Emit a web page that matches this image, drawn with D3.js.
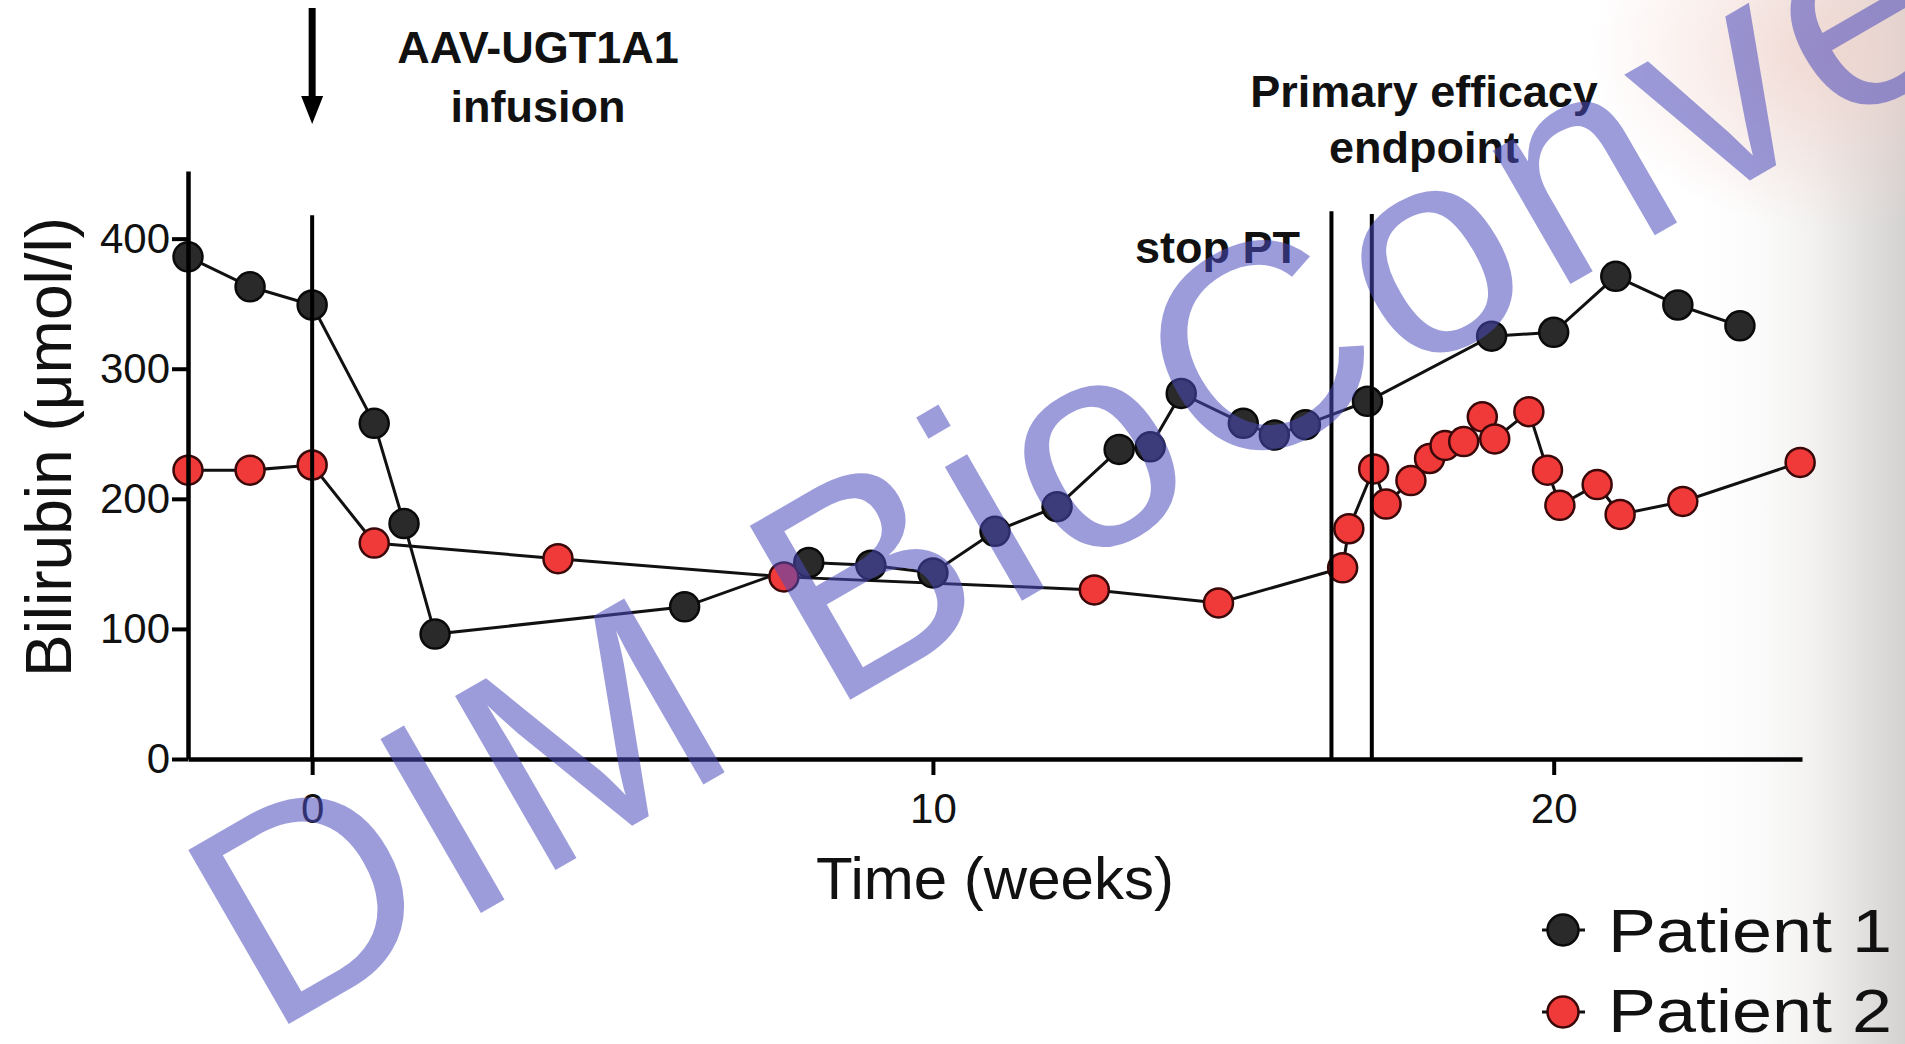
<!DOCTYPE html>
<html>
<head>
<meta charset="utf-8">
<script src="https://cdn.jsdelivr.net/npm/d3@7"></script>
<style>
  body { margin: 0; background: #fff; }
  svg text { font-family: "Liberation Sans", Arial, Helvetica, sans-serif; }
</style>
</head>
<body>
<div id="main-frame"></div>
<script>
// data
var weeks1 = [-2, -1, 0, 1, 1.48, 1.98, 6, 8, 9, 10, 11, 12, 13, 13.5, 14, 15, 15.5, 16, 17, 19, 20, 21, 22, 23];
var bili1  = [386, 363, 349, 258, 181, 96, 117, 151, 149, 143, 175, 194, 238, 240, 281, 258, 249, 257, 275, 325, 328, 371, 349, 333];

var weeks2 = [-2, -1, 0, 1, 3.96, 7.6, 12.6, 14.6, 16.6, 16.7, 17.1, 17.3, 17.7, 18, 18.25, 18.55, 18.85, 19.05, 19.6, 19.9, 20.1, 20.7, 21.07, 22.08, 23.97];
var bili2  = [222, 222, 226, 166, 154, 140, 130, 120, 147, 177, 223, 196, 214, 231, 241, 244, 263, 246, 267, 222, 195, 211, 188, 198, 228];

var seriesNames = ["Patient 1", "Patient 2"];
var xTicks = [0, 10, 20];
var yTicks = [0, 100, 200, 300, 400];

// vertical marker lines (week, top value)
var refWeeks = [0, 16.42, 17.07];
var refTops = [418, 421, 419];

var width = 1905;
var height = 1044;

var mainSVG = d3.select("#main-frame")
  .append("svg")
  .attr("width", width)
  .attr("height", height);

// faint photo shading on the right edge
var defs = mainSVG.append("defs");
var grad = defs.append("linearGradient").attr("id", "edge").attr("x1", 0).attr("x2", 1).attr("y1", 0).attr("y2", 0);
grad.append("stop").attr("offset", "0").attr("stop-color", "#fff").attr("stop-opacity", 0);
grad.append("stop").attr("offset", "0.6").attr("stop-color", "#f2f1f0").attr("stop-opacity", 1);
grad.append("stop").attr("offset", "1").attr("stop-color", "#d4d2d1").attr("stop-opacity", 1);
var pink = defs.append("radialGradient").attr("id", "pink").attr("cx", 0.5).attr("cy", 0.5).attr("r", 0.5);
pink.append("stop").attr("offset", "0").attr("stop-color", "#f0d2cb").attr("stop-opacity", 0.8);
pink.append("stop").attr("offset", "1").attr("stop-color", "#f0d2cb").attr("stop-opacity", 0);

mainSVG.append("rect").attr("x", 0).attr("y", 0).attr("width", width).attr("height", height).attr("fill", "#fff");
mainSVG.append("rect").attr("x", 1680).attr("y", 0).attr("width", 225).attr("height", height).attr("fill", "url(#edge)");
mainSVG.append("ellipse").attr("cx", 1830).attr("cy", 50).attr("rx", 240).attr("ry", 180).attr("fill", "url(#pink)");

var x = d3.scaleLinear().domain([-2, 24]).range([188, 1802]);
var y = d3.scaleLinear().domain([0, 452]).range([759, 171]);

var line = d3.line()
  .x(function(d) { return x(d[0]); })
  .y(function(d) { return y(d[1]); });

var pts1 = d3.zip(weeks1, bili1);
var pts2 = d3.zip(weeks2, bili2);

// connecting lines
[pts1, pts2].forEach(function(pts) {
  mainSVG.append("path")
    .attr("d", line(pts))
    .attr("fill", "none")
    .attr("stroke", "#111")
    .attr("stroke-width", 3);
});

function dots(pts, fill, edge) {
  mainSVG.append("g").selectAll("circle")
    .data(pts)
    .enter().append("circle")
    .attr("cx", function(d) { return x(d[0]); })
    .attr("cy", function(d) { return y(d[1]); })
    .attr("r", 14.5)
    .attr("fill", fill)
    .attr("stroke", edge)
    .attr("stroke-width", 2.5);
}
dots(pts1, "#2a2a2a", "#0a0a0a");
dots(pts2, "#f03a3a", "#3a0808");

// reference lines (drawn over the markers)
refWeeks.forEach(function(w, i) {
  mainSVG.append("line")
    .attr("x1", x(w)).attr("x2", x(w))
    .attr("y1", y(refTops[i])).attr("y2", y(0))
    .attr("stroke", "#000")
    .attr("stroke-width", 4);
});

// axes
var xAxis = mainSVG.append("g")
  .attr("transform", "translate(0," + y(0) + ")")
  .call(d3.axisBottom(x).tickValues(xTicks).tickSize(16).tickSizeOuter(0).tickPadding(18));
var yAxis = mainSVG.append("g")
  .attr("transform", "translate(" + x(-2) + ",0)")
  .call(d3.axisLeft(y).tickValues(yTicks).tickSize(16).tickSizeOuter(0).tickPadding(2));

[xAxis, yAxis].forEach(function(g) {
  g.select(".domain").attr("stroke", "#000").attr("stroke-width", 4.5);
  g.selectAll(".tick line").attr("stroke", "#000").attr("stroke-width", 4);
  g.selectAll(".tick text")
    .attr("fill", "#111")
    .style("font-size", "42px")
    .style("font-family", "Liberation Sans, Arial, sans-serif");
});

// axis titles
mainSVG.append("text")
  .attr("x", 995)
  .attr("y", 899)
  .attr("text-anchor", "middle")
  .style("font-size", "60px")
  .attr("fill", "#111")
  .text("Time (weeks)");

mainSVG.append("text")
  .attr("transform", "translate(71,447) rotate(-90)")
  .attr("text-anchor", "middle")
  .style("font-size", "64px")
  .attr("fill", "#111")
  .text("Bilirubin (\u03bcmol/l)");

// infusion arrow
var ax = x(0);
mainSVG.append("rect")
  .attr("x", ax - 3.5).attr("y", 8).attr("width", 7).attr("height", 92)
  .attr("fill", "#000");
mainSVG.append("path")
  .attr("d", "M" + (ax - 11) + ",96L" + (ax + 11) + ",96L" + ax + ",124Z")
  .attr("fill", "#000");

function label(lines, cx, y0, dy, anchor) {
  var t = mainSVG.append("text")
    .attr("text-anchor", anchor)
    .style("font-size", "45px")
    .style("font-weight", "bold")
    .attr("fill", "#111");
  lines.forEach(function(s, i) {
    t.append("tspan").attr("x", cx).attr("y", y0 + i * dy).text(s);
  });
}
label(["AAV-UGT1A1", "infusion"], 538, 63, 59, "middle");
label(["Primary efficacy", "endpoint"], 1424, 107, 56, "middle");
label(["stop PT"], 1300, 263, 0, "end");

// legend
var legY = [930, 1012];
var legBase = [952, 1032];
var legFill = ["#2a2a2a", "#f03a3a"];
var legEdge = ["#0a0a0a", "#3a0808"];
seriesNames.forEach(function(name, i) {
  mainSVG.append("line")
    .attr("x1", 1542).attr("x2", 1585)
    .attr("y1", legY[i]).attr("y2", legY[i])
    .attr("stroke", "#111").attr("stroke-width", 3);
  mainSVG.append("circle")
    .attr("cx", 1563).attr("cy", legY[i]).attr("r", 15.5)
    .attr("fill", legFill[i]).attr("stroke", legEdge[i]).attr("stroke-width", 2.5);
  mainSVG.append("text")
    .attr("x", 1608).attr("y", legBase[i])
    .attr("textLength", 284)
    .attr("lengthAdjust", "spacingAndGlyphs")
    .style("font-size", "62px")
    .attr("fill", "#111")
    .text(name);
});

// watermark over everything
mainSVG.append("text")
  .attr("transform", "translate(268,1036) rotate(-30)")
  .style("font-size", "292px")
  .style("letter-spacing", "8px")
  .attr("fill", "rgb(75,75,190)")
  .attr("fill-opacity", 0.55)
  .text("DIM BioConve");
</script>
</body>
</html>
